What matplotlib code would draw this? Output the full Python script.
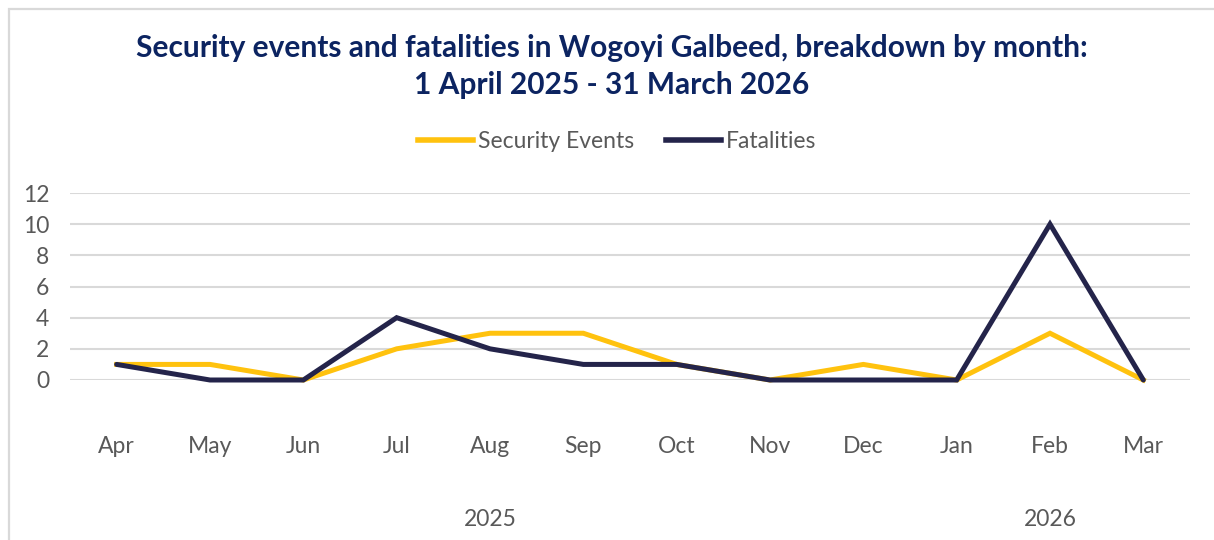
import matplotlib
matplotlib.use("Agg")
import matplotlib.pyplot as plt
from matplotlib.patches import Rectangle
from matplotlib.lines import Line2D

months = ["Apr", "May", "Jun", "Jul", "Aug", "Sep", "Oct", "Nov", "Dec", "Jan", "Feb", "Mar"]
security_events = [1, 1, 0, 2, 3, 3, 1, 0, 1, 0, 3, 0]
fatalities = [1, 0, 0, 4, 2, 1, 1, 0, 0, 0, 10, 0]
years = ["2025", "2026"]
year_spans = [(0, 8), (9, 11)]
yticks = [0, 2, 4, 6, 8, 10, 12]

W, H = 1214, 540
fig = plt.figure(figsize=(W / 100, H / 100), dpi=100)
plt.rcParams['font.family'] = ['Lato', 'DejaVu Sans']

TEXT = "#595959"
YELLOW = "#FFC20E"
NAVY = "#24244A"
TITLE = "#0C2461"
FS = 16.5

# border
fig.add_artist(Rectangle((9 / W, -0.1), 1.2, 1 - 9 / H + 0.1, transform=fig.transFigure,
                         fill=False, edgecolor="#d9d9d9", linewidth=1.6))

ax = fig.add_axes([70 / W, 1 - 380 / H, (1190 - 70) / W, (380 - 193) / H])
x = list(range(len(months)))
ax.plot(x, security_events, color=YELLOW, lw=3.6, solid_joinstyle="miter", clip_on=False, zorder=3)
ax.plot(x, fatalities, color=NAVY, lw=3.6, solid_joinstyle="miter", solid_capstyle="round", clip_on=False, zorder=4)
ax.set_xlim(-0.5, len(months) - 0.5)
ax.set_ylim(0, 12)
ax.set_yticks(yticks)
ax.set_yticklabels([str(v) for v in yticks])
ax.grid(axis="y", color="#d9d9d9", lw=1.5)
ax.set_axisbelow(True)
for s in ax.spines.values():
    s.set_visible(False)
ax.tick_params(axis="y", length=0, pad=15, labelsize=FS, labelcolor=TEXT)
ax.tick_params(axis="x", length=0, pad=40, labelsize=FS, labelcolor=TEXT)
ax.set_xticks(x)
ax.set_xticklabels(months)

# year labels
ybelow = -(519 - 380) / (380 - 193)
for yr, (a, b) in zip(years, year_spans):
    ax.text((a + b) / 2, ybelow, yr, transform=ax.get_xaxis_transform(), ha="center", va="center",
            fontsize=FS, color=TEXT)

fig.text(612 / W, 1 - 48 / H, "Security events and fatalities in Wogoyi Galbeed, breakdown by month:",
         ha="center", va="center", fontsize=21.5, fontweight="bold", color=TITLE)
fig.text(612 / W, 1 - 85 / H, "1 April 2025 - 31 March 2026",
         ha="center", va="center", fontsize=21.5, fontweight="bold", color=TITLE)

handles = [Line2D([], [], color=YELLOW, lw=4), Line2D([], [], color=NAVY, lw=4)]
fig.legend(handles, ["Security Events", "Fatalities"], loc="center",
           bbox_to_anchor=(617 / W, 1 - 142 / H), ncol=2, frameon=False,
           fontsize=FS, handlelength=2.4, handletextpad=0.2, columnspacing=1.4,
           labelcolor=TEXT)

fig.savefig("out.png", dpi=100)
